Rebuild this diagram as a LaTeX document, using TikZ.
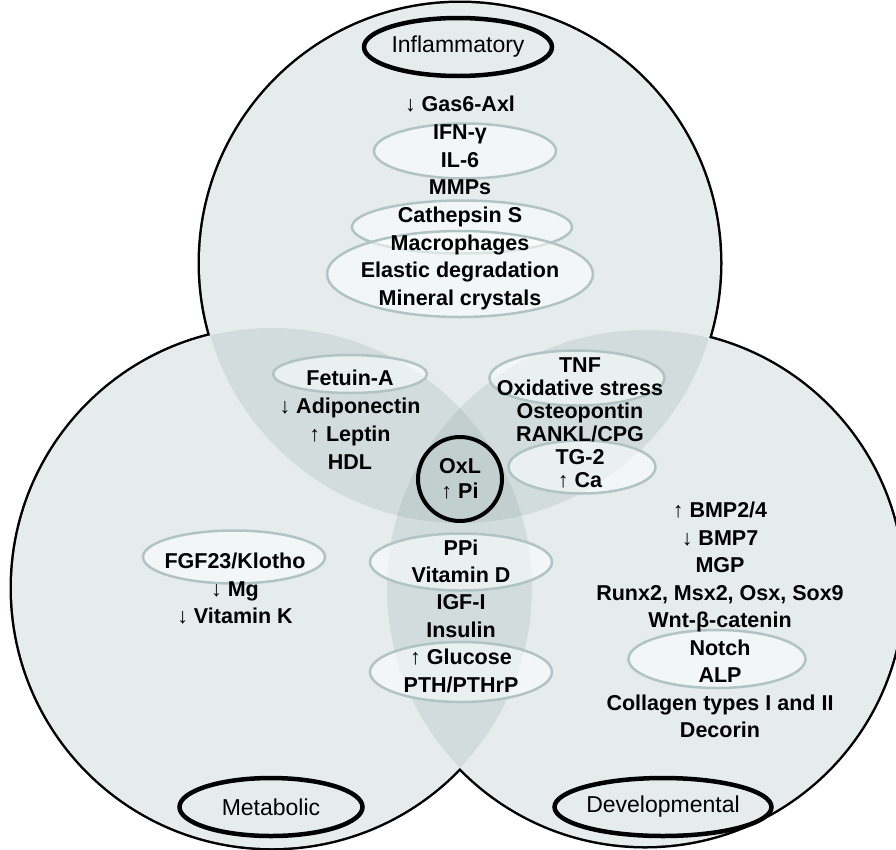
\documentclass[tikz,border=0pt]{standalone}
\usepackage{fontspec}
\setmainfont{Liberation Sans}
\usetikzlibrary{shapes.geometric}

\definecolor{vennfill}{RGB}{120,150,150}
\definecolor{ringgray}{RGB}{176,196,196}

\begin{document}
\begin{tikzpicture}[x=1pt, y=-1pt,
  venn/.style={fill=vennfill, fill opacity=0.18},
  ring/.style={ellipse, draw=ringgray, line width=2.5pt, fill=white,
               fill opacity=0.55, inner sep=0pt},
  tag/.style={ellipse, draw=black, line width=4.5pt, inner sep=0pt,
              minimum width=183, minimum height=58, font=\fontsize{23}{27}\selectfont},
  lst/.style={align=center, inner sep=0pt, font=\fontsize{21.5}{#1}\selectfont\bfseries},
  lst/.default=27.5
]
\useasboundingbox (0,0) rectangle (896,849);

% ---- three sets ----
\coordinate (c-inf) at (460,263);
\coordinate (c-met) at (272,588);
\coordinate (c-dev) at (645,588);
\begin{scope}
  \clip (0,0) rectangle (896,849);
  \draw[line width=5pt] (c-inf) circle[radius=260];
  \draw[line width=5pt] (c-met) circle[radius=260];
  \draw[line width=5pt] (c-dev) circle[radius=258];
  \fill[white] (c-inf) circle[radius=260];
  \fill[white] (c-met) circle[radius=260];
  \fill[white] (c-dev) circle[radius=258];
  \fill[venn] (c-inf) circle[radius=260];
  \fill[venn] (c-met) circle[radius=260];
  \fill[venn] (c-dev) circle[radius=258];
\end{scope}

% ---- pale rings ----
\node[ring, minimum width=182, minimum height=55] (r-ifn)  at (465,151) {};
\node[ring, minimum width=220, minimum height=53] (r-cat)  at (462,227) {};
\node[ring, minimum width=266, minimum height=86] (r-ela)  at (460,274) {};
\node[ring, minimum width=154, minimum height=38] (r-fet)  at (350,374) {};
\node[ring, minimum width=175, minimum height=55] (r-tnf)  at (577,378) {};
\node[ring, minimum width=147, minimum height=53] (r-tg)   at (582,467) {};
\node[ring, minimum width=182, minimum height=57] (r-ppi)  at (461,562) {};
\node[ring, minimum width=182, minimum height=60] (r-glu)  at (461,672) {};
\node[ring, minimum width=182, minimum height=53] (r-fgf)  at (234,557) {};
\node[ring, minimum width=177, minimum height=58] (r-not)  at (717,659) {};

% ---- Inflammatory ----
\node[tag] (inf-lbl) at (458,47) {Inflammatory};
\node[lst=27.7] (inf-txt) at (460,203)
  {↓ Gas6-Axl\\IFN-γ\\IL-6\\MMPs\\Cathepsin S\\Macrophages\\Elastic degradation\\Mineral crystals};

% ---- Metabolic ----
\node[tag] (met-lbl) at (271,807) {Metabolic};
\node[lst] (met-txt) at (235,589) {FGF23/Klotho\\↓ Mg\\↓ Vitamin K};

% ---- Developmental ----
\node[tag] (dev-lbl) at (663,807) {Developmental};
\node[lst] (dev-txt) at (720,620)
  {↑ BMP2/4\\↓ BMP7\\MGP\\Runx2, Msx2, Osx, Sox9\\Wnt-β-catenin\\Notch\\ALP\\Collagen types I and II\\Decorin};

% ---- overlaps ----
\node[lst=28]   (im-txt)  at (350,420) {Fetuin-A\\↓ Adiponectin\\↑ Leptin\\HDL};
\node[lst=23]   (id-txt)  at (580,423) {TNF\\Oxidative stress\\Osteopontin\\RANKL/CPG\\TG-2\\↑ Ca};
\node[lst=27.4] (md-txt)  at (461,616) {PPi\\Vitamin D\\IGF-I\\Insulin\\↑ Glucose\\PTH/PTHrP};

% ---- core ----
\node[circle, draw=black, line width=4pt, minimum size=84, inner sep=0pt,
      align=center, font=\fontsize{21.5}{25}\selectfont\bfseries] (core) at (460,479) {OxL\\↑ Pi};

\end{tikzpicture}
\end{document}
